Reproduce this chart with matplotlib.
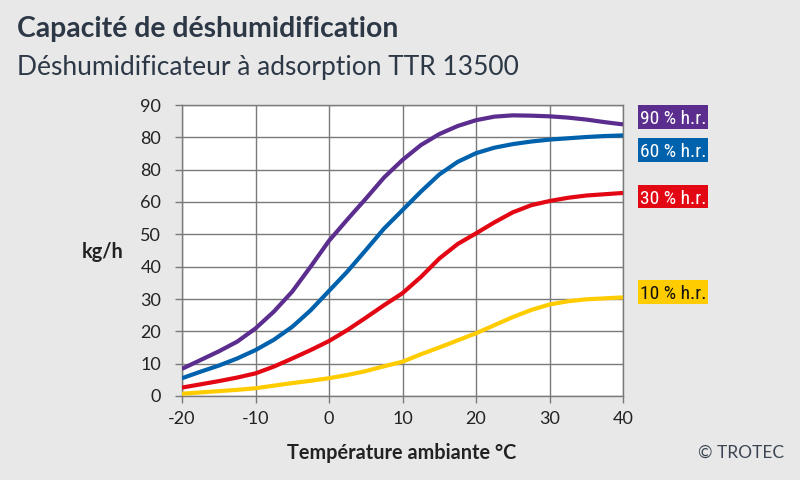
import matplotlib
matplotlib.use("Agg")
import matplotlib.pyplot as plt
from matplotlib.patches import Rectangle
from matplotlib import font_manager

temps = [-20, -17.5, -15, -12.5, -10, -7.5, -5, -2.5, 0, 2.5, 5, 7.5, 10,
         12.5, 15, 17.5, 20, 22.5, 25, 27.5, 30, 32.5, 35, 37.5, 40]
rh90 = [8.4, 11.1, 13.8, 16.8, 20.9, 26.1, 32.3, 40.0, 48.0, 54.6, 61.0, 67.6, 73.0,
        77.6, 81.0, 83.5, 85.3, 86.4, 86.8, 86.7, 86.5, 86.1, 85.5, 84.7, 84.0]
rh60 = [5.5, 7.5, 9.4, 11.6, 14.2, 17.4, 21.4, 26.5, 32.5, 38.5, 45.1, 51.8, 57.5,
        63.2, 68.5, 72.4, 75.1, 76.8, 77.9, 78.7, 79.3, 79.7, 80.1, 80.4, 80.6]
rh30 = [2.6, 3.6, 4.6, 5.7, 7.0, 9.1, 11.6, 14.2, 17.0, 20.4, 24.2, 28.1, 31.8,
        36.8, 42.5, 47.0, 50.3, 53.7, 56.8, 59.0, 60.3, 61.3, 62.0, 62.4, 62.8]
rh10 = [0.7, 1.1, 1.5, 1.9, 2.4, 3.2, 4.0, 4.7, 5.5, 6.5, 7.7, 9.2, 10.6,
        12.9, 15.0, 17.2, 19.4, 21.9, 24.4, 26.6, 28.3, 29.3, 29.9, 30.2, 30.5]
series_labels = ["90 % h.r.", "60 % h.r.", "30 % h.r.", "10 % h.r."]
colors = ["#5b2d8e", "#0062ad", "#e30613", "#ffcc00"]
label_text_colors = ["white", "white", "white", "#111111"]
label_y = [86.3, 76.1, 61.7, 32.3]

xticks = [-20, -10, 0, 10, 20, 30, 40]
yticks = [0, 10, 20, 30, 40, 50, 60, 70, 80, 90]
ytick_labels = ["0", "10", "20", "30", "40", "50", "60", "80", "80", "90"]

available = {f.name for f in font_manager.fontManager.ttflist}
narrow = "Roboto"
for cand in ["Roboto Condensed", "Liberation Sans Narrow", "Open Sans Condensed", "DejaVu Sans Condensed"]:
    if cand in available:
        narrow = cand
        break
main = "Lato" if "Lato" in available else "DejaVu Sans"
label_size = 14 if narrow != "Roboto" else 12.3

bg = "#e8e8e8"
fig = plt.figure(figsize=(8, 4.8), dpi=100, facecolor=bg)
ax = fig.add_axes([0.2275, 0.175, 0.55125, 0.60625])
ax.set_facecolor("white")

for y, c in zip([rh90, rh60, rh30, rh10], colors):
    ax.plot(temps, y, color=c, lw=3.0, solid_capstyle="butt", solid_joinstyle="round", zorder=3)

ax.set_xlim(-20, 40)
ax.set_ylim(0, 90)
ax.set_xticks(xticks)
ax.set_xticklabels([str(t) for t in xticks], fontfamily=main, fontsize=13, color="#222222")
ax.set_yticks(yticks)
ax.set_yticklabels(ytick_labels, fontfamily=main, fontsize=13, color="#222222")
ax.grid(True, color="#7a7a7a", lw=1.0)
ax.set_axisbelow(True)
for s in ax.spines.values():
    s.set_color("#7a7a7a")
    s.set_linewidth(1.0)
ax.tick_params(axis="both", length=5, width=1.0, color="#7a7a7a", pad=6)
ax.tick_params(axis="y", pad=10)

box_w = 9.55   # in data x units (70 px)
box_h = 7.4    # in data y units (24 px)
box_x = 42.05
for txt, c, tc, yv in zip(series_labels, colors, label_text_colors, label_y):
    ax.add_patch(Rectangle((box_x, yv - box_h / 2), box_w, box_h, facecolor=c,
                           edgecolor="none", clip_on=False, zorder=4))
    ax.text(box_x + box_w / 2, yv, txt, fontfamily=narrow, fontsize=label_size,
            color=tc, va="center_baseline", ha="center", clip_on=False, zorder=5)

fig.text(0.021, 1 - 37.5 / 480, "Capacité de déshumidification", fontfamily=main,
         fontweight="bold", fontsize=20.4, color="#2d3847", va="baseline", ha="left")
fig.text(0.021, 1 - 75 / 480, "Déshumidificateur à adsorption TTR 13500", fontfamily=main,
         fontsize=19, color="#2d3847", va="baseline", ha="left")
fig.text(103 / 800, 1 - 252 / 480, "kg/h", fontfamily=main, fontweight="bold", fontsize=14.3,
         color="#222222", va="center", ha="center")
fig.text(402 / 800, 1 - 453 / 480, "Température ambiante °C", fontfamily=main, fontweight="bold",
         fontsize=14.3, color="#222222", va="center", ha="center")
fig.text(784 / 800, 1 - 453 / 480, "© TROTEC", fontfamily=main, fontsize=12.5,
         color="#3a4452", va="center", ha="right")

fig.savefig("out.png", dpi=100, facecolor=bg)
